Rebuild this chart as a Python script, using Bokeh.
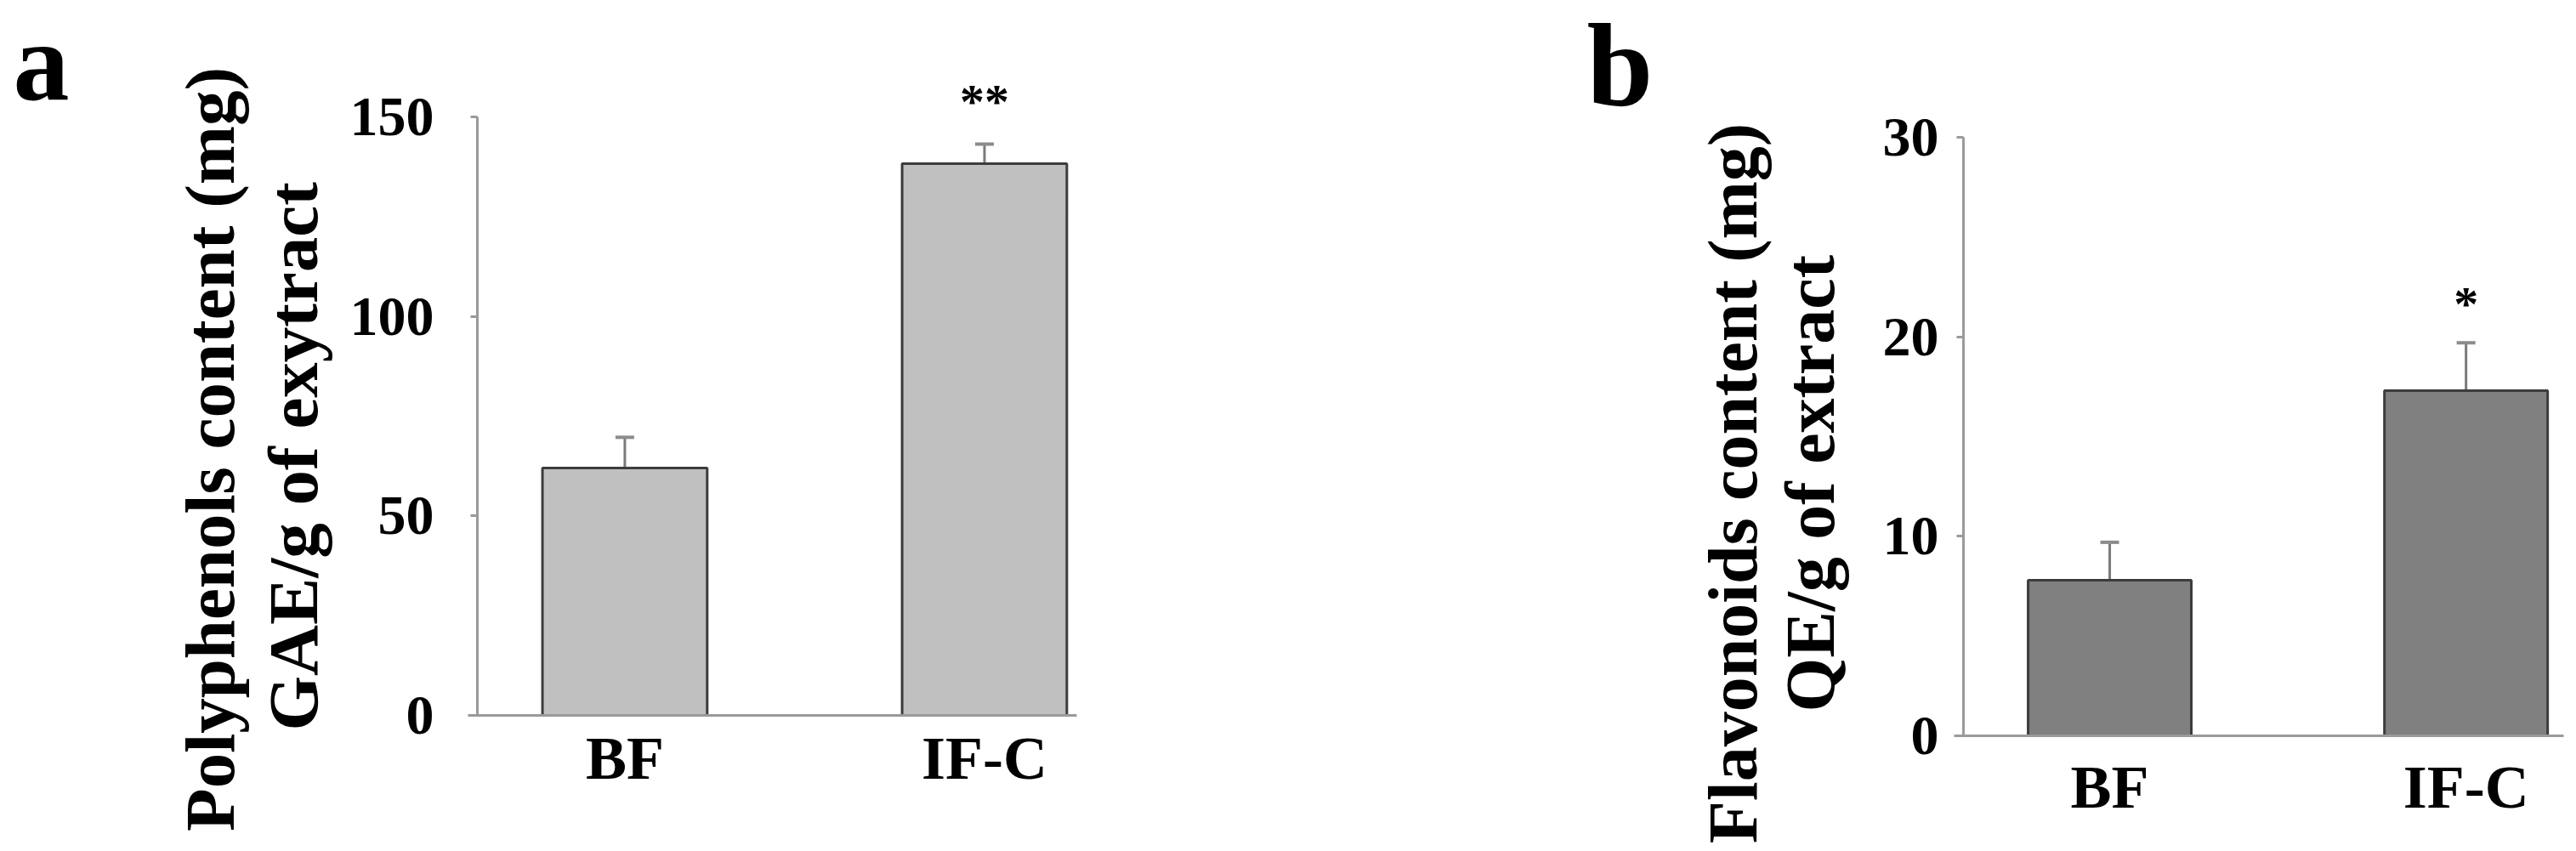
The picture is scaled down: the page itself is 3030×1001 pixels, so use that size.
import math
from bokeh.plotting import figure
from bokeh.layouts import row
from bokeh.models import (ColumnDataSource, Range1d, FixedTicker, Whisker, TeeHead,
                          LabelSet, Label)
from bokeh.embed import file_html
from bokeh.resources import INLINE

# ---------------- data ----------------
categories = ["BF", "IF-C"]
polyphenols = [62.0, 138.3]
polyphenols_err = [7.7, 4.9]
polyphenols_sig = ["", "**"]
polyphenols_ticks = [0, 50, 100, 150]

flavonoids = [7.8, 17.3]
flavonoids_err = [1.9, 2.4]
flavonoids_sig = ["", "*"]
flavonoids_ticks = [0, 10, 20, 30]

FONT = "Liberation Serif"
H = 1000


def make_panel(values, errs, sigs, ticks, fill, title1, title2, letter,
               width, ax_left, ax_right, ax_top, ax_bottom,
               x_start, x_end, tick_standoff, cat_standoff, sig_offset,
               t1_x, t1_y, t2_x, t2_y, t1_size, t2_size,
               letter_x, letter_y, letter_size):
    xs = list(range(1, len(categories) + 1))
    y0, y1 = ticks[0], ticks[-1]
    # pixel <-> data scales (axis box given in figure pixels)
    kx = (x_end - x_start) / (ax_right - ax_left)
    ky = (y1 - y0) / (ax_bottom - ax_top)
    xr = Range1d(x_start - ax_left * kx, x_start + (width - ax_left) * kx)
    yr = Range1d(y0 - (H - ax_bottom) * ky, y0 + ax_bottom * ky)

    def dx(px):
        return x_start + (px - ax_left) * kx

    def dy(py):
        return y0 + (ax_bottom - py) * ky

    p = figure(width=width, height=H, output_backend="svg", toolbar_location=None,
               x_range=xr, y_range=yr, title=None,
               min_border_left=0, min_border_right=0,
               min_border_top=0, min_border_bottom=0)
    p.outline_line_color = None
    p.xgrid.visible = False
    p.ygrid.visible = False
    p.background_fill_color = "white"
    p.border_fill_color = "white"

    upper = [v + e for v, e in zip(values, errs)]
    src = ColumnDataSource(dict(x=xs, top=values, upper=upper, sig=sigs))
    p.vbar(x="x", top="top", bottom=0, width=0.458, source=src,
           fill_color=fill, line_color="#3c3c3c", line_width=3)

    wh = Whisker(source=src, base="x", lower="top", upper="upper",
                 line_color="#7a7a7a", line_width=3, lower_head=None,
                 upper_head=TeeHead(size=22, line_color="#8c8c8c", line_width=4))
    p.add_layout(wh)

    ls = LabelSet(source=src, x="x", y="upper", text="sig", y_offset=sig_offset,
                  text_align="center", text_baseline="alphabetic",
                  text_font=FONT, text_font_style="bold", text_font_size="58px",
                  text_color="black")
    p.add_layout(ls)

    # axes (drawn inside the frame at fixed locations)
    ya = p.yaxis[0]
    ya.fixed_location = x_start
    ya.bounds = (y0, y1)
    ya.ticker = FixedTicker(ticks=ticks)
    ya.minor_tick_line_color = None
    ya.major_tick_in = 0
    ya.major_tick_out = 8
    ya.major_tick_line_color = "#9a9a9a"
    ya.major_tick_line_width = 3
    ya.axis_line_color = "#9a9a9a"
    ya.axis_line_width = 3
    ya.major_label_text_font = FONT
    ya.major_label_text_font_style = "bold"
    ya.major_label_text_font_size = "66px"
    ya.major_label_text_color = "black"
    ya.major_label_standoff = tick_standoff

    xa = p.xaxis[0]
    xa.fixed_location = y0
    xa.bounds = (x_start - 11 * kx, x_end)
    xa.ticker = FixedTicker(ticks=xs)
    xa.major_label_overrides = {x: c for x, c in zip(xs, categories)}
    xa.minor_tick_line_color = None
    xa.major_tick_in = 0
    xa.major_tick_out = 0
    xa.axis_line_color = "#9a9a9a"
    xa.axis_line_width = 3
    xa.major_label_text_font = FONT
    xa.major_label_text_font_style = "bold"
    xa.major_label_text_font_size = "72px"
    xa.major_label_text_color = "black"
    xa.major_label_standoff = cat_standoff

    for txt, tx, ty, fs in ((title1, t1_x, t1_y, t1_size), (title2, t2_x, t2_y, t2_size)):
        p.add_layout(Label(x=dx(tx), y=dy(ty), text=txt, angle=math.pi / 2,
                           text_align="center", text_baseline="alphabetic",
                           text_font=FONT, text_font_style="bold",
                           text_font_size=fs, text_color="black"))
    p.add_layout(Label(x=dx(letter_x), y=dy(letter_y), text=letter,
                       text_align="left", text_baseline="alphabetic",
                       text_font=FONT, text_font_style="bold",
                       text_font_size=letter_size, text_color="black"))
    return p


# panel a: figure at page x 0..1507
pa = make_panel(polyphenols, polyphenols_err, polyphenols_sig, polyphenols_ticks,
                "#c0c0c0", "Polyphenols content (mg)", "GAE/g  of exytract", "a",
                width=1507, ax_left=561, ax_right=1266, ax_top=137, ax_bottom=841,
                x_start=0.590, x_end=2.2565, tick_standoff=43, cat_standoff=10,
                sig_offset=30,
                t1_x=246, t1_y=528, t2_x=344, t2_y=526, t1_size="83px", t2_size="83px",
                letter_x=15, letter_y=72, letter_size="132px")

# panel b: figure at page x 1507..3022 (fig coords = page - 1507)
pb = make_panel(flavonoids, flavonoids_err, flavonoids_sig, flavonoids_ticks,
                "#808080", "Flavonoids content (mg)", "QE/g of  extract", "b",
                width=1515, ax_left=802, ax_right=1508, ax_top=161, ax_bottom=865,
                x_start=0.5895, x_end=2.274, tick_standoff=21, cat_standoff=20,
                sig_offset=26,
                t1_x=531, t1_y=568, t2_x=622, t2_y=558, t1_size="82px", t2_size="82px",
                letter_x=359, letter_y=76, letter_size="140px")

layout = row(pa, pb)
open("out.html", "w").write(file_html(layout, INLINE))
